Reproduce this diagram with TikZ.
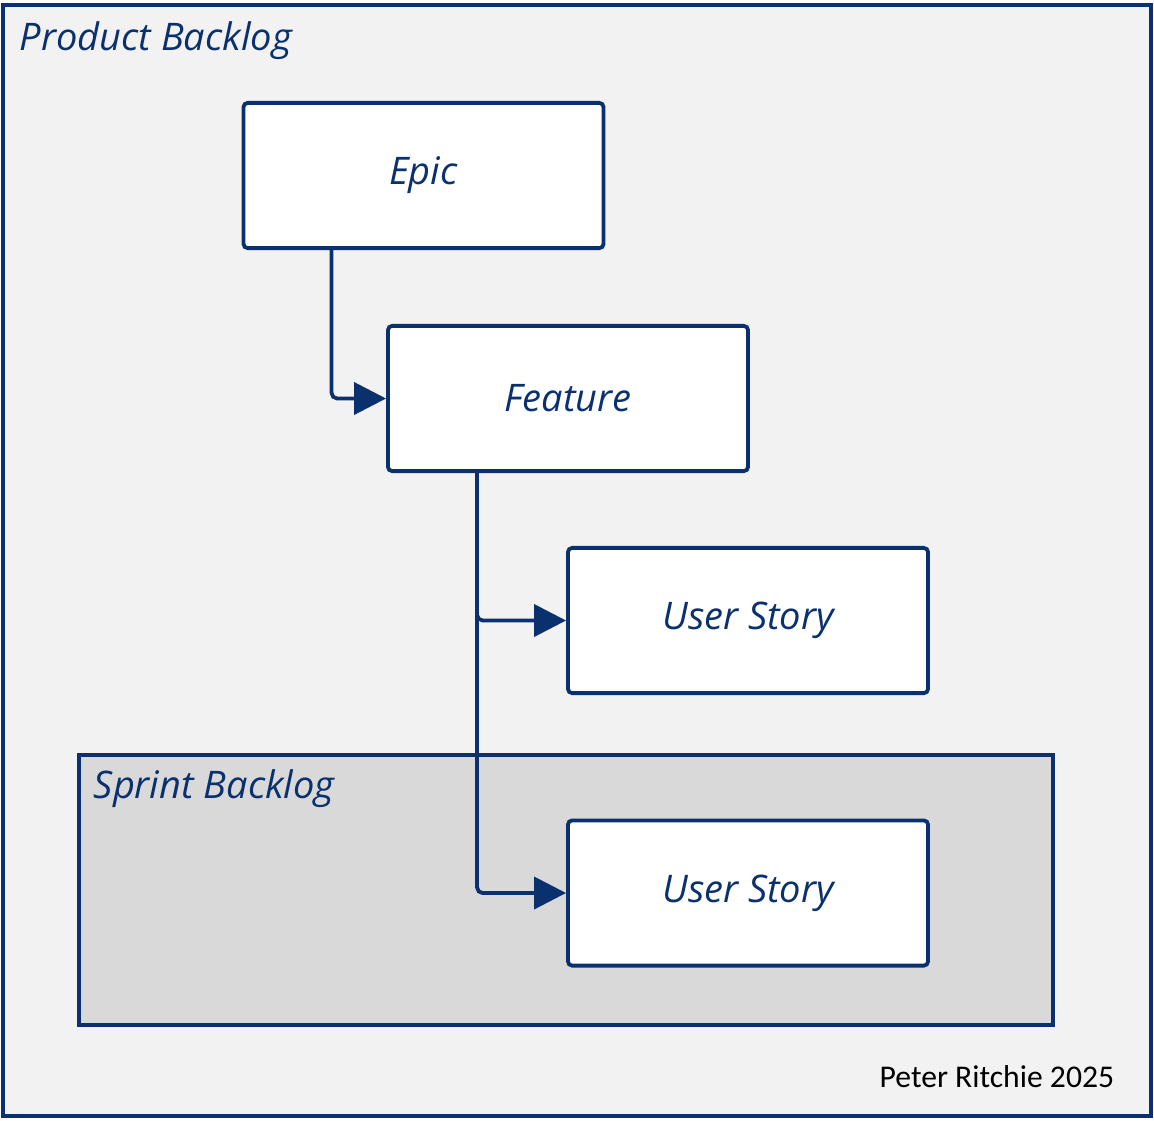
\documentclass[tikz,border=0pt]{standalone}
\usetikzlibrary{arrows.meta, positioning}
\usepackage{fontspec}
\setmainfont{Carlito}
\newfontfamily\handfont{Open Sans}
\definecolor{inkblue}{HTML}{0A306E}
\definecolor{paper}{HTML}{F2F2F2}
\definecolor{sprintgray}{HTML}{D9D9D9}
\def\itemw{9cm}
\def\itemh{3.63cm}

\begin{document}
\begin{tikzpicture}[x=0.025cm, y=-0.025cm, draw=inkblue, line width=2.7pt]
    \tikzstyle{backlog}=[draw=inkblue, line width=2.7pt]
    \tikzstyle{item}=[rectangle, draw=inkblue, fill=white, line width=2.7pt, rounded corners=3pt, minimum width=\itemw, minimum height=\itemh, inner sep=0pt, font=\handfont\itshape\fontsize{27}{32}\selectfont, text=inkblue]
    \tikzstyle{title}=[anchor=west, inner sep=0pt, font=\handfont\itshape\fontsize{27}{32}\selectfont, text=inkblue]
    \tikzstyle{link}=[-{Triangle[length=0.8cm, width=0.8cm]}, draw=inkblue, line width=2.7pt, rounded corners=4pt]

    \useasboundingbox (0,0) rectangle (1154,1120);

    % Draw the two backlogs
    \draw[backlog, fill=paper] (3,5) rectangle (1151,1116);
    \node[title] (pb) at (18,41) {Product Backlog};
    \draw[backlog, fill=sprintgray] (79,755) rectangle (1053,1025);
    \node[title] (sb) at (92,789) {Sprint Backlog};

    % Draw the work items
    \node[item] (epic) at (423.5,175.5) {Epic};
    \node[item] (feature) at (568,398.5) {Feature};
    \node[item] (story-1) at (748,620.5) {User Story};
    \node[item] (story-2) at (748,893) {User Story};

    % Connect every item to its children
    \draw[link] (epic.south west) ++(90,0) |- (feature.west);
    \foreach \dest in {1,2}
        \draw[link] (feature.south west) ++(91,0) |- (story-\dest.west);

    \node[anchor=east, inner sep=0pt, font=\fontsize{22.5}{27}\selectfont] (credit) at (1116,1077) {Peter Ritchie 2025};
\end{tikzpicture}
\end{document}
